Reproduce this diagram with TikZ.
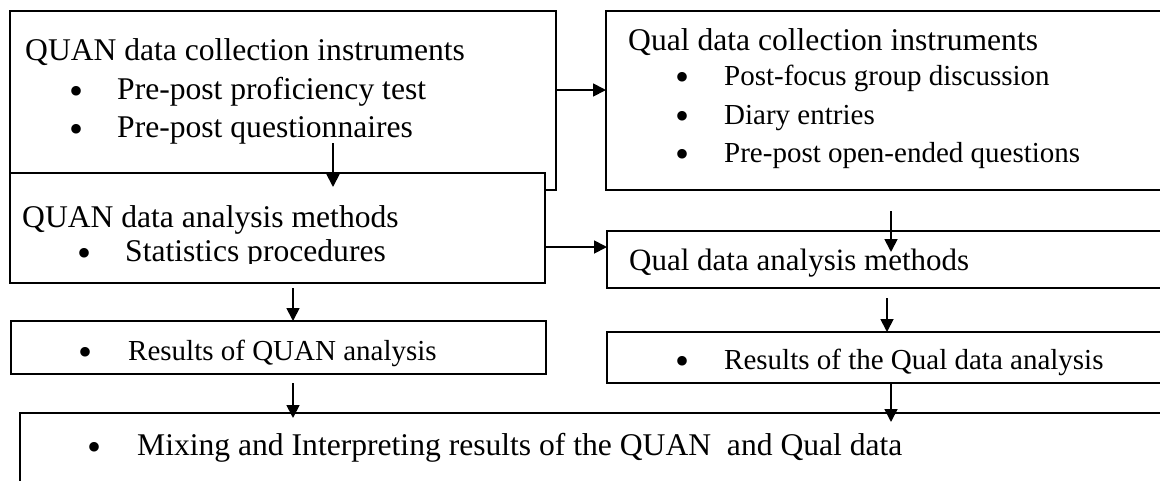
\documentclass[tikz,border=0pt]{standalone}
\usepackage{fontspec}
\setmainfont{Liberation Serif}
\usetikzlibrary{arrows.meta}
\begin{document}
\begin{tikzpicture}[x=1pt,y=-1pt,
  box/.style={draw, line width=1.6pt, fill=white, inner sep=0pt, outer sep=0pt, anchor=north west},
  arr/.style={line width=1.8pt, -{Triangle[length=13pt,width=13pt]}},
  big/.style={font=\fontsize{31.6}{36}\selectfont, inner sep=0pt, anchor=base west},
  small/.style={font=\fontsize{29}{34}\selectfont, inner sep=0pt, anchor=base west},
  bul/.style={font=\fontsize{40}{44}\selectfont, inner sep=0pt, anchor=center},
]
\useasboundingbox (0,0) rectangle (1160,480);
\clip (0,0) rectangle (1160,480);
\fill[white] (0,0) rectangle (1160,480);

% boxes
\node[box, minimum width=546pt, minimum height=179pt] (A) at (10,11) {};
\node[box, minimum width=560pt, minimum height=179pt] (C) at (606,11) {};
\node[box, minimum width=535pt, minimum height=110pt] (B) at (10,173) {};
\node[box, minimum width=559pt, minimum height=57pt] (D) at (607,231) {};
\node[box, minimum width=535pt, minimum height=53pt] (E) at (11,321) {};
\node[box, minimum width=559pt, minimum height=51pt] (F) at (607,332) {};
\node[box, minimum width=1146pt, minimum height=80pt] (G) at (20,413) {};

% texts: QUAN collection
\node[big] (tA0) at (25,60) {QUAN data collection instruments};
\node[bul] (bA1) at (77,95) {\textbullet};
\node[big] (tA1) at (117,99) {Pre-post proficiency test};
\node[bul] (bA2) at (77,133) {\textbullet};
\node[big] (tA2) at (117,137) {Pre-post questionnaires};

% Qual collection
\node[big] (tC0) at (628,50) {Qual data collection instruments};
\node[bul] (bC1) at (682,81) {\textbullet};
\node[small] (tC1) at (724,85) {Post-focus group discussion};
\node[bul] (bC2) at (682,120) {\textbullet};
\node[small] (tC2) at (724,124) {Diary entries};
\node[bul] (bC3) at (682,158) {\textbullet};
\node[small] (tC3) at (724,162) {Pre-post open-ended questions};

% QUAN analysis
\node[big] (tB0) at (22,227) {QUAN data analysis methods};
\node[bul] (bB1) at (85,257) {\textbullet};
\begin{scope}
  \clip (0,0) rectangle (1160,263);
  \node[big] (tB1) at (125,261) {Statistics procedures};
\end{scope}

% Qual analysis
\node[big, font=\fontsize{31}{36}\selectfont] (tD0) at (629,270) {Qual data analysis methods};

% results
\node[bul] (bE1) at (86,356) {\textbullet};
\node[small] (tE1) at (128,360) {Results of QUAN analysis};
\node[bul] (bF1) at (682,365) {\textbullet};
\node[small] (tF1) at (724,369) {Results of the Qual data analysis};

% mixing
\node[bul] (bG1) at (95,451) {\textbullet};
\node[big] (tG1) at (137,455) {Mixing and Interpreting results of the QUAN\ \ and Qual data};

% connector end points
\coordinate (yAC) at (0,90);
\coordinate (yBD) at (0,247);
\coordinate (ab0) at (333,143);
\coordinate (ab1) at (333,187);
\coordinate (cd0) at (891,211);
\coordinate (cd1) at (891,252);
\coordinate (xBE) at (293,0);
\coordinate (xDF) at (887,0);
\coordinate (eg0) at (293,383);
\coordinate (eg1) at (293,418);
\coordinate (fg1) at (891,422);

% connectors
\draw[arr] (A.east |- yAC) -- (C.west |- yAC);
\draw[arr] (B.east |- yBD) -- (D.west |- yBD);
\draw[arr] (ab0) -- (ab1);
\draw[arr] (cd0) -- (cd1);
\draw[arr] ([yshift=-5pt]xBE |- B.south) -- (xBE |- E.north);
\draw[arr] ([yshift=-10pt]xDF |- D.south) -- (xDF |- F.north);
\draw[arr] (eg0) -- (eg1);
\draw[arr] (fg1 |- F.south) -- (fg1);
\end{tikzpicture}
\end{document}
